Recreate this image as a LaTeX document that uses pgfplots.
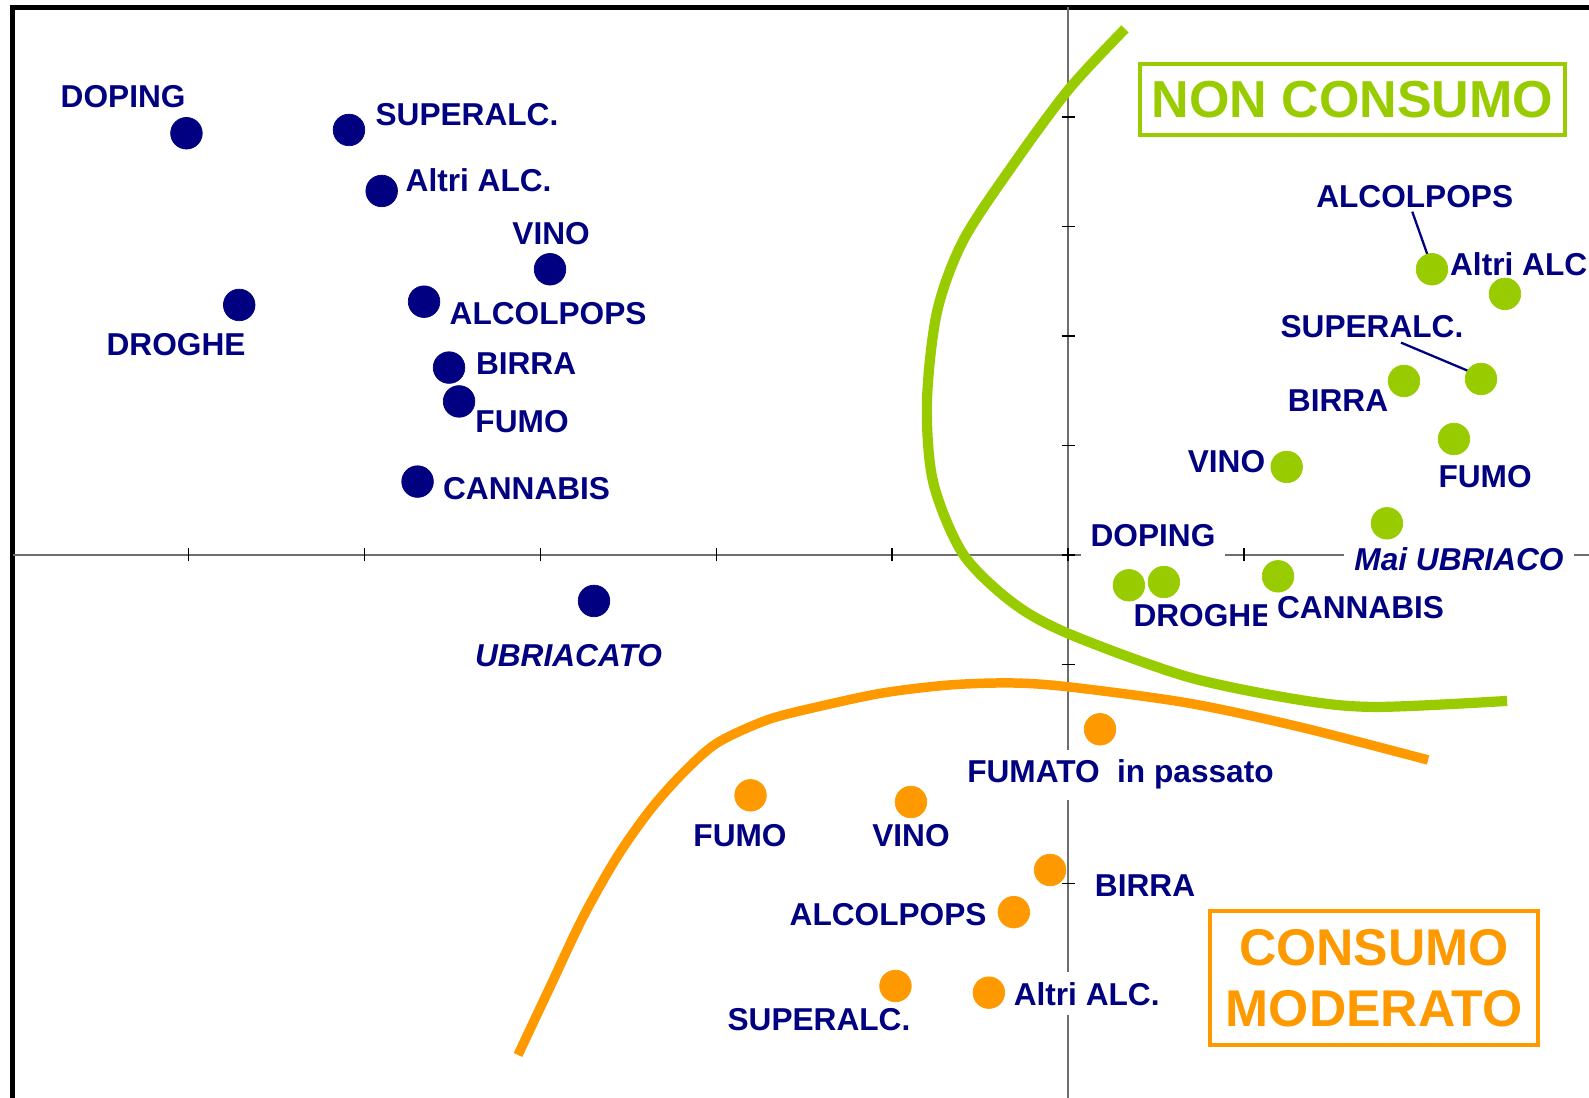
\documentclass[border=0pt]{standalone}
\usepackage{pgfplots}
\pgfplotsset{compat=1.18}
\usepackage{fontspec}
\setmainfont{Liberation Sans}
\definecolor{navy}{RGB}{0,0,128}
\definecolor{lgreen}{RGB}{153,204,0}
\definecolor{orng}{RGB}{255,153,0}
\definecolor{axgray}{RGB}{110,110,110}
\begin{document}
\begin{tikzpicture}[
  lab/.style={font=\fontsize{9}{10.8}\selectfont\bfseries, text=navy, fill=white, inner xsep=1mm, inner ysep=1mm, anchor=base},
  ilab/.style={lab, font=\fontsize{9}{10.8}\selectfont\bfseries\itshape}]
\begin{axis}[name=ax, scale only axis, width=15.89cm, height=10.98cm,
  xmin=-6.072, xmax=2.962, ymin=-4.959, ymax=5.068, hide axis, clip=false]
% frame
\draw[line width=1.28pt] (axis cs:-6,-4.959) -- (axis cs:-6,5) -- (axis cs:2.962,5);
% cross axes
\draw[axgray, line width=0.5pt] (axis cs:-6,0) -- (axis cs:2.962,0);
\draw[axgray, line width=0.5pt] (axis cs:0,-4.959) -- (axis cs:0,5);
\pgfplotsinvokeforeach{-5,-4,-3,-2,-1,0,1,2}{\draw[line width=0.4pt] ([yshift=-0.65mm]axis cs:#1,0) -- ([yshift=0.65mm]axis cs:#1,0);}
\pgfplotsinvokeforeach{-4,-3,-2,-1,0,1,2,3,4}{\draw[line width=0.4pt] ([xshift=-0.65mm]axis cs:0,#1) -- ([xshift=0.65mm]axis cs:0,#1);}
% navy group labels
\node[lab] at (axis cs:-5.372,4.082) {DOPING};
\node[lab] at (axis cs:-3.417,3.918) {SUPERALC.};
\node[lab] at (axis cs:-3.351,3.315) {Altri ALC.};
\node[lab] at (axis cs:-2.939,2.831) {VINO};
\node[lab] at (axis cs:-2.956,2.100) {ALCOLPOPS};
\node[lab] at (axis cs:-5.071,1.817) {DROGHE};
\node[lab] at (axis cs:-3.081,1.644) {BIRRA};
\node[lab] at (axis cs:-3.104,1.114) {FUMO};
\node[lab] at (axis cs:-3.078,0.502) {CANNABIS};
\node[ilab] at (axis cs:-2.840,-1.023) {UBRIACATO};
% green group labels
\node[lab] at (axis cs:1.971,3.169) {ALCOLPOPS};
\node[lab] at (axis cs:2.587,2.548) {Altri ALC.};
\node[lab] at (axis cs:1.728,1.986) {SUPERALC.};
\node[lab] at (axis cs:1.535,1.311) {BIRRA};
\node[lab] at (axis cs:0.901,0.749) {VINO};
\node[lab] at (axis cs:2.371,0.612) {FUMO};
\node[lab] at (axis cs:0.483,0.078) {DOPING};
\node[ilab] at (axis cs:2.223,-0.142) {Mai UBRIACO};
\node[lab] at (axis cs:0.767,-0.653) {DROGHE};
\node[lab] at (axis cs:1.663,-0.584) {CANNABIS};
\draw[navy, line width=0.65pt] (axis cs:1.957,3.135) -- (axis cs:2.054,2.694);
\draw[navy, line width=0.65pt] (axis cs:1.893,1.939) -- (axis cs:2.285,1.674);
% orange group labels
\node[lab] at (axis cs:0.298,-2.082) {FUMATO\ \ in passato};
\node[lab] at (axis cs:-1.865,-2.662) {FUMO};
\node[lab] at (axis cs:-0.893,-2.662) {VINO};
\node[lab] at (axis cs:0.438,-3.123) {BIRRA};
\node[lab] at (axis cs:-1.023,-3.388) {ALCOLPOPS};
\node[lab] at (axis cs:-1.416,-4.347) {SUPERALC.};
\node[lab] at (axis cs:0.106,-4.110) {Altri ALC.};
% boxes
\node[draw=lgreen, line width=1.14pt, text=lgreen, font=\fontsize{14.8}{17.3}\selectfont\bfseries,
  minimum width=42.5mm, minimum height=7.1mm, inner sep=0pt] at (axis cs:1.617,4.160) {NON CONSUMO};
\node[draw=orng, line width=1.14pt, text=orng, font=\fontsize{14.7}{17.3}\selectfont\bfseries, align=center,
  minimum width=32.8mm, minimum height=13.4mm, inner sep=0pt] at (axis cs:1.740,-3.863) {CONSUMO\\MODERATO};
% curves
\addplot[smooth, line width=2.9pt, color=lgreen] coordinates {
(0.324,4.804) (0.006,4.256) (-0.313,3.562) (-0.597,2.868) (-0.745,2.219) (-0.802,1.397)
(-0.767,0.667) (-0.597,0.009) (-0.313,-0.438) (0.006,-0.721) (0.682,-1.114) (1.319,-1.324)
(1.751,-1.388) (2.496,-1.333)};
\addplot[smooth, line width=2.7pt, color=orng] coordinates {
(-3.127,-4.566) (-2.945,-3.945) (-2.757,-3.306) (-2.564,-2.758) (-2.376,-2.329) (-2.189,-1.991)
(-1.995,-1.717) (-1.711,-1.507) (-1.427,-1.388) (-1.052,-1.260) (-0.671,-1.187) (-0.318,-1.169)
(0.006,-1.205) (0.682,-1.352) (1.319,-1.571) (2.047,-1.872)};
% dots
\addplot[only marks, mark=*, mark size=1.58mm, color=navy, mark options={line width=0.2pt}] coordinates {
(-5.012,3.851) (-4.088,3.881) (-3.902,3.324) (-2.945,2.609) (-4.712,2.283) (-3.661,2.313)
(-3.519,1.711) (-3.462,1.402) (-3.698,0.670) (-2.695,-0.420)};
\addplot[only marks, mark=*, mark size=1.58mm, color=lgreen, mark options={line width=0.2pt}] coordinates {
(2.069,2.609) (2.484,2.384) (2.348,1.607) (1.910,1.589) (2.194,1.059) (1.243,0.804)
(1.813,0.289) (0.346,-0.277) (0.545,-0.247) (1.194,-0.195)};
\addplot[only marks, mark=*, mark size=1.58mm, color=orng, mark options={line width=0.2pt}] coordinates {
(0.182,-1.592) (-1.805,-2.195) (-0.893,-2.256) (-0.102,-2.877) (-0.308,-3.262) (-0.981,-3.936) (-0.450,-3.997)};
\end{axis}
\pgfresetboundingbox
\path[use as bounding box] (ax.south west) rectangle (ax.north east);
\end{tikzpicture}
\end{document}
